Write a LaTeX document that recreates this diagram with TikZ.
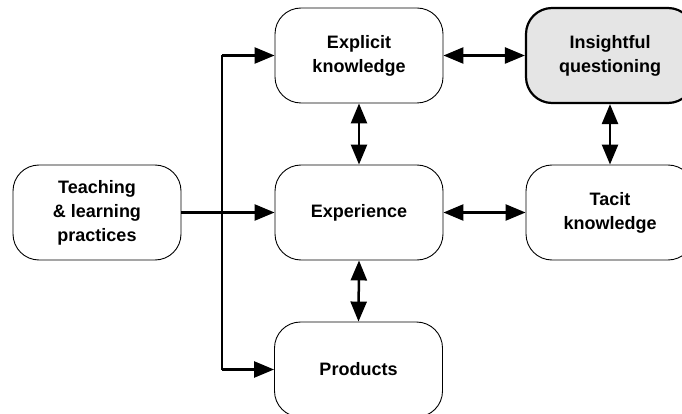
\documentclass[tikz,border=0pt]{standalone}
\usepackage{fontspec}
\setmainfont{Liberation Sans}
\usetikzlibrary{arrows.meta}
\tikzset{
  box/.style={draw, line width=0.9pt, rounded corners=26pt, minimum width=168pt, minimum height=95pt,
    inner sep=0pt, align=center, font=\fontsize{18}{24}\selectfont\bfseries},
  hlbox/.style={box, fill=black!10, line width=2.2pt},
  conn/.style={line width=2.5pt},
  arr/.style={conn, -{Triangle[length=20pt,width=16pt]}},
  darr/.style={conn, {Triangle[length=20pt,width=16pt]}-{Triangle[length=20pt,width=16pt]}},
}
\begin{document}
\begin{tikzpicture}[x=1pt,y=-1pt]
\useasboundingbox (0,0) rectangle (682,414);
\clip (0,0) rectangle (682,414);
\node[box] (teach) at (97,212.5) {Teaching\\\& learning\\practices};
\node[box] (expl) at (359,55.5) {Explicit\\knowledge};
\node[hlbox] (ins) at (610,55.5) {Insightful\\questioning};
\node[box] (exp) at (359,212.5) {Experience};
\node[box] (tac) at (610,212.5) {Tacit\\knowledge};
\node[box] (prod) at (358.5,369.5) {Products};
\coordinate (jt) at (222,212.5);
\draw[conn] (teach.east) -- (jt);
\draw[conn] (jt |- expl.west) -- (jt |- prod.west);
\draw[arr] (jt |- expl.west) -- (expl.west);
\draw[arr] (jt) -- (exp.west);
\draw[arr] (jt |- prod.west) -- (prod.west);
\draw[darr] (expl.east) -- (ins.west);
\draw[darr] (exp.east) -- (tac.west);
\draw[darr] (expl.south) -- (exp.north);
\draw[darr] (exp.south) -- (prod.north);
\draw[darr] (ins.south) -- (tac.north);
\end{tikzpicture}
\end{document}
